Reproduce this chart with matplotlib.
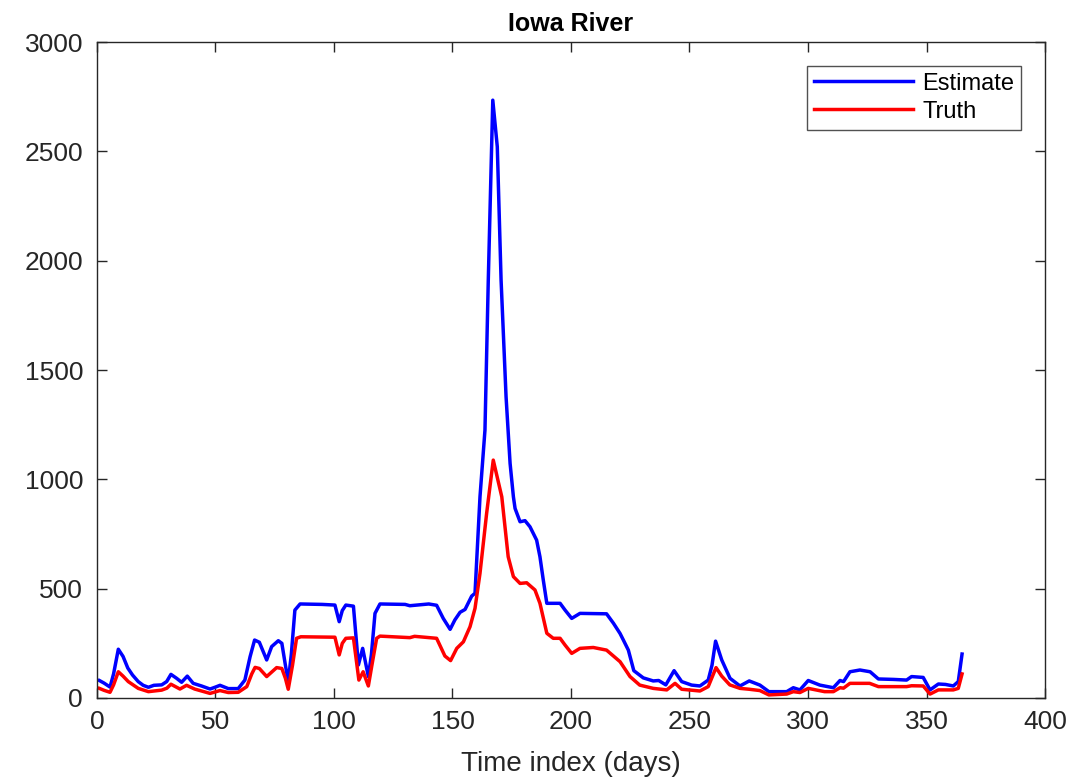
import matplotlib
matplotlib.use("Agg")
import matplotlib.pyplot as plt

plt.rcParams['font.family'] = ['Liberation Sans', 'DejaVu Sans']

# Estimate (blue), values
est_days = [1, 3, 5.5, 7, 9, 11, 13, 15, 17.4, 19.5, 21.7, 24, 27.3, 29.4, 31.2, 33.6, 35.7,
            38.1, 40.6, 44.1, 47.7, 50, 51.9, 55.4, 59.6, 62.4, 64.6, 66.5, 68.5, 71.6, 73.7,
            76.5, 78, 79.5, 80.7, 82, 83.5, 85.7, 95, 100.4, 102.2, 103.5, 105, 108.2, 110.3,
            112.1, 114.5, 115.8, 117.3, 119.4, 130, 132, 140, 143.3, 146.1, 149, 151, 153.2,
            155.3, 158.1, 159.5, 161.6, 163.7, 165.1, 167, 168.9, 170.5, 172.6, 174.3, 175.7,
            176.4, 178.5, 180.6, 182.7, 185.5, 186.9, 188.3, 189.8, 195.4, 197.5, 200.3, 203.8,
            215, 217.9, 220.7, 222.1, 224.2, 226.5, 230.5, 234.7, 237, 240, 243.5, 246.7, 250.9,
            254.4, 257.9, 259.5, 261, 263.6, 267.1, 271.3, 275.2, 279.7, 283.5, 291, 293.8,
            296.6, 300.1, 305, 310.7, 313.5, 315, 317.7, 321.9, 326.2, 329.7, 336, 341.6, 343.7,
            348.6, 351.5, 355, 358, 361.3, 363.4, 365]
est_vals = [80, 68, 50, 110, 223, 190, 137, 105, 75, 58, 49, 58, 60, 75, 108, 90, 72,
            100, 67, 55, 41, 50, 58, 43, 43, 82, 189, 265, 255, 174, 235,
            262, 250, 150, 75, 200, 402, 430, 428, 425, 349, 400, 425, 420, 151,
            227, 98, 200, 387, 430, 428, 422, 430, 424, 364, 314, 357, 392,
            405, 466, 479, 920, 1225, 1911, 2734, 2521, 1911, 1378, 1073, 920,
            867, 806, 811, 783, 722, 646, 540, 433, 433, 402, 364, 387,
            385, 342, 295, 265, 219, 125, 92, 78, 80, 60, 125, 75, 59,
            55, 82, 150, 260, 174, 90, 55, 78, 59, 29, 29, 47,
            37, 80, 59, 47, 80, 75, 120, 128, 120, 87, 85, 82, 98,
            94, 37, 64, 62, 55, 75, 201]

# Truth (red)
tru_days = [1, 3, 5.5, 7, 9, 11, 13.2, 17.4, 21.7, 27.3, 29.5, 31.2, 35, 37.8, 41.2, 47.7,
            51.9, 55.4, 59.6, 63.2, 65.3, 66.7, 68.5, 71.6, 75.8, 78, 79.5, 80.7, 82.5, 84.2,
            86, 100.4, 102.2, 103.5, 105, 108.2, 110.5, 112.3, 114.5, 116, 118, 119.4, 132,
            134, 143.3, 146.8, 149.2, 151.8, 154.6, 157.4, 159.5, 161.6, 164.4, 167.2, 170.8,
            173.5, 175.7, 178.5, 181.3, 184.8, 186.9, 189.8, 192.5, 195.4, 197.5, 200.3, 203.8,
            209.4, 215, 220.7, 224.9, 229, 234.7, 240.4, 243.9, 246.7, 254.4, 257.9, 261.2,
            263.6, 267, 271.3, 275.2, 279.7, 283.5, 291, 293.8, 296.6, 300.1, 307, 310.7,
            313.5, 315, 317.7, 326, 329.7, 341.6, 343.7, 348.6, 351.5, 355, 361.3, 363.4, 365]
tru_vals = [44, 35, 26, 60, 120, 100, 75, 44, 29, 36, 45, 63, 41, 58, 41, 21,
            34, 25, 26, 52, 110, 140, 135, 98, 139, 135, 90, 40, 150, 273,
            280, 278, 197, 250, 273, 275, 82, 120, 55, 150, 273, 283, 276,
            282, 273, 192, 171, 227, 257, 326, 410, 570, 844, 1088, 920,
            646, 555, 524, 527, 494, 433, 296, 273, 273, 242, 204, 227,
            231, 219, 166, 98, 59, 44, 37, 67, 40, 32, 52, 139,
            100, 60, 44, 40, 34, 14, 18, 29, 25, 44, 29, 29,
            47, 45, 67, 67, 52, 52, 56, 55, 18, 37, 37, 44, 110]

fig = plt.figure(figsize=(10.8, 7.84), dpi=100)
ax = fig.add_axes([0.0898, 0.1097, 0.8778, 0.8367])

ax.plot(est_days, est_vals, color=(0, 0, 1), lw=2.5, label="Estimate")
ax.plot(tru_days, tru_vals, color=(1, 0, 0), lw=2.5, label="Truth")

ax.set_xlim(0, 400)
ax.set_ylim(0, 3000)
ax.set_xticks(range(0, 401, 50))
ax.set_yticks(range(0, 3001, 500))
ax.tick_params(direction="in", top=True, right=True, length=7, width=1,
               labelsize=19, colors="#262626")
ax.tick_params(axis="x", pad=9)
ax.tick_params(axis="y", pad=10)
for s in ax.spines.values():
    s.set_color("#262626")
    s.set_linewidth(1)

ax.set_title("Iowa River", fontsize=18, fontweight="bold", pad=8)
ax.set_xlabel("Time index (days)", fontsize=20, color="#262626", labelpad=12)

leg = ax.legend(loc="upper right", fontsize=17, frameon=True, fancybox=False,
                handlelength=4.2, borderpad=0.3, labelspacing=0.25,
                borderaxespad=1.0, handletextpad=0.4)
leg.get_frame().set_edgecolor("#262626")
leg.get_frame().set_linewidth(1)

fig.savefig("out.png", dpi=100)
